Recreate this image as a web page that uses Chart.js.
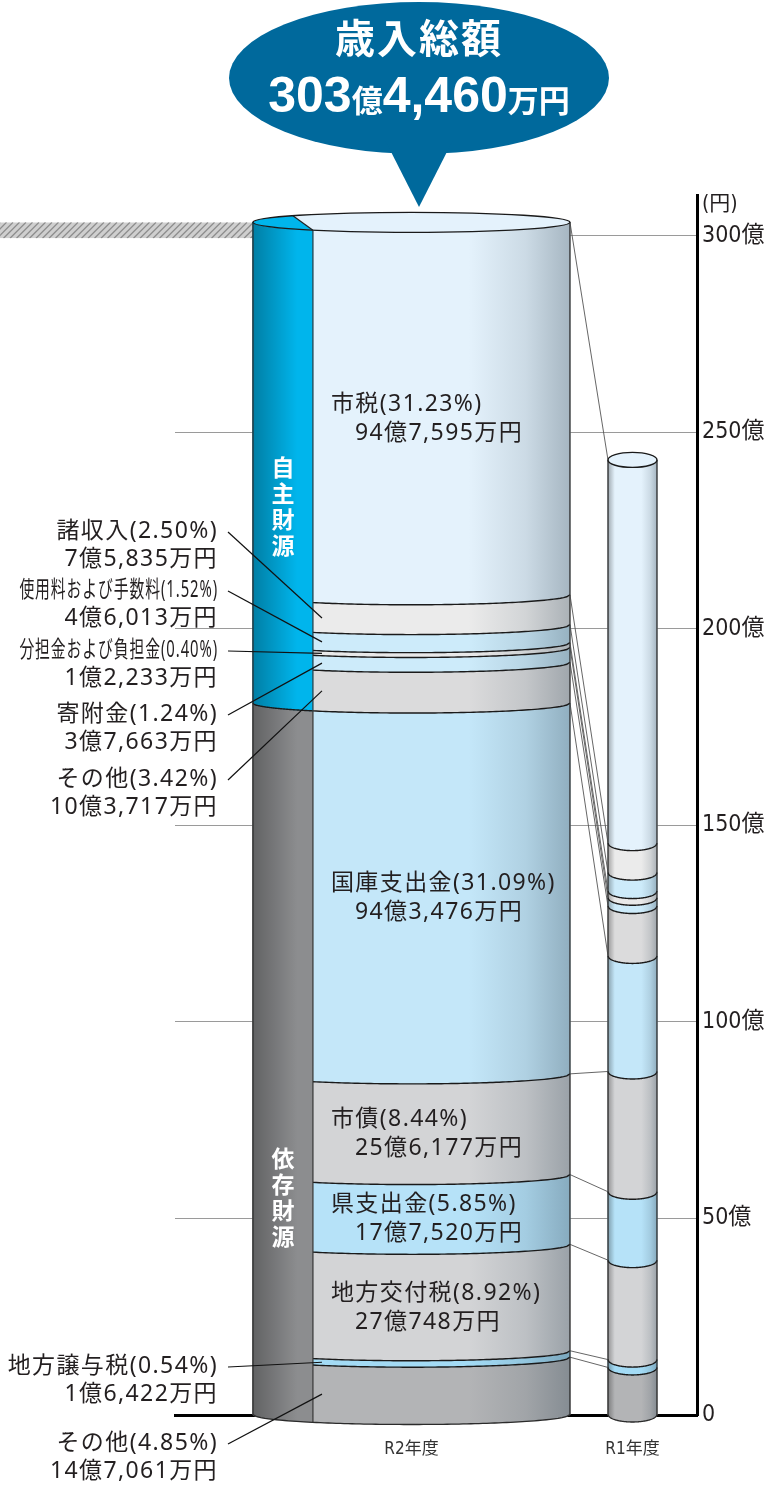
<!DOCTYPE html>
<html><head><meta charset="utf-8">
<style>html,body{margin:0;padding:0;background:#fff;}canvas{display:block;}</style>
<script src="https://cdn.jsdelivr.net/npm/chart.js@4.4.1/dist/chart.umd.min.js"></script>
</head><body>
<canvas id="c" width="769" height="1486"></canvas>
<script>
// ---------------- DATA ----------------
const years = ['R2年度', 'R1年度'];
// items bottom -> top
const items = ['その他', '地方譲与税', '地方交付税', '県支出金', '市債', '国庫支出金', 'その他', '寄附金', '分担金および負担金', '使用料および手数料', '諸収入', '市税'];
const itemSource = ['依存', '依存', '依存', '依存', '依存', '依存', '自主', '自主', '自主', '自主', '自主', '自主'];
const r2Values = [14.7061, 1.6422, 27.0748, 17.7520, 25.6177, 94.3476, 10.3717, 3.7663, 1.2233, 4.6013, 7.5835, 94.7595];
const r2Shares = ['4.85%', '0.54%', '8.92%', '5.85%', '8.44%', '31.09%', '3.42%', '1.24%', '0.40%', '1.52%', '2.50%', '31.23%'];
const r2Amounts = ['14億7,061万円', '1億6,422万円', '27億748万円', '17億7,520万円', '25億6,177万円', '94億3,476万円', '10億3,717万円', '3億7,663万円', '1億2,233万円', '4億6,013万円', '7億5,835万円', '94億7,595万円'];
const r1Values = [12.1, 2.0, 25.3, 17.4, 30.6, 29.4, 12.7, 2.1, 1.7, 4.7, 7.5, 97.5];
const sourceGroups = ['依存財源', '自主財源'];
const totalTitle = '歳入総額';
const totalParts = ['303', '億', '4,460', '万円'];
const yTickStep = 50;
const yUnit = '億';
const axisUnitLabel = '(円)';

// ---------------- STYLE / LAYOUT ----------------
const fills = ['#B3B4B6', '#A3DBF5', '#D3D4D6', '#B6E2F8', '#D3D4D6', '#C4E7F9', '#DBDBDC', '#CDEBFA', '#E9E9E9', '#CDEBFA', '#EBEBEB', '#E4F2FC'];
const srcFills = ['#8C8D8F', '#00B5EC'];
const X_POS = { src: -0.83, r2: 0, r1: 1 };
const X_MIN = -1.395, X_MAX = 1.3377;
const X_TICKS = [-0.157, 1];
const BAR_W = { src: 60, r2: 257, r1: 49 };
const CYL_STYLE = { R2: { ry: 10 }, R1: { ry: 7.5 } };
const WEDGE = 20;
const SHADE = [[0, 'rgba(0,0,0,0.30)'], [0.14, 'rgba(0,0,0,0)'], [0.68, 'rgba(40,60,75,0)'], [0.86, 'rgba(40,60,75,0.13)'], [1, 'rgba(40,60,75,0.33)']];
const TXT = '#231F20';
const LABEL_FONT = '"Noto Sans", "Noto Sans CJK JP", sans-serif';
const CJK = '"Noto Sans CJK JP", sans-serif';
const NARROW = '"Liberation Sans Narrow", "DejaVu Sans Condensed", "Noto Sans CJK JP", sans-serif';
const LBL = { font: '23px ' + LABEL_FONT, ls: '1.4px' };
const IN_BAR = [11, 5, 4, 3, 2];
const LEFT_LABEL_Y = { 10: 531, 9: 590, 8: 650, 7: 714, 6: 779, 1: 1366, 0: 1443 };
const CONDENSE = { 9: 0.645, 8: 0.645 };
const SRC_TEXT_POS = [0.695, 0.59];

// ---------------- DATASETS ----------------
const datasets = [];
items.forEach((name, i) => datasets.push({ label: name + ' ' + years[0], data: [{ x: X_POS.r2, y: r2Values[i] }], stack: 'r2', cyl: 'R2', item: i, backgroundColor: fills[i], barThickness: BAR_W.r2 }));
items.forEach((name, i) => datasets.push({ label: name + ' ' + years[1], data: [{ x: X_POS.r1, y: r1Values[i] }], stack: 'r1', cyl: 'R1', item: i, backgroundColor: fills[i], barThickness: BAR_W.r1 }));
sourceGroups.forEach((g, j) => {
  const sum = r2Values.filter((v, i) => g.startsWith(itemSource[i])).reduce((a, b) => a + b, 0);
  datasets.push({ label: g, data: [{ x: X_POS.src, y: sum }], stack: 'src', cyl: 'R2', src: j, backgroundColor: srcFills[j], barThickness: BAR_W.src });
});

// ---------------- HELPERS ----------------
function geom(chart) {
  const groups = {};
  chart.data.datasets.forEach((ds, di) => {
    const el = chart.getDatasetMeta(di).data[0];
    if (!el) return;
    const seg = { ds, di, x0: el.x - el.width / 2, x1: el.x + el.width / 2, top: Math.min(el.y, el.base), bot: Math.max(el.y, el.base) };
    (groups[ds.cyl] = groups[ds.cyl] || { segs: [] }).segs.push(seg);
  });
  Object.keys(groups).forEach(k => {
    const G = groups[k];
    G.left = Math.min(...G.segs.map(s => s.x0));
    G.right = Math.max(...G.segs.map(s => s.x1));
    G.top = Math.min(...G.segs.map(s => s.top));
    G.bot = Math.max(...G.segs.map(s => s.bot));
    G.cx = (G.left + G.right) / 2; G.rx = (G.right - G.left) / 2; G.ry = CYL_STYLE[k].ry;
    G.dip = x => { const t = (x - G.cx) / G.rx; return G.ry * Math.sqrt(Math.max(0, 1 - t * t)); };
  });
  return groups;
}
function arcPts(G, x0, x1, level, n = 80) {
  const pts = [];
  for (let i = 0; i <= n; i++) { const x = x0 + (x1 - x0) * i / n; pts.push([x, level + G.dip(x)]); }
  return pts;
}
function tracePts(ctx, pts, move = true) {
  pts.forEach(([x, y], i) => (i === 0 && move) ? ctx.moveTo(x, y) : ctx.lineTo(x, y));
}
function strokePts(ctx, pts) { ctx.beginPath(); tracePts(ctx, pts); ctx.stroke(); }
function text(ctx, str, x, y, o = {}) {
  ctx.save();
  ctx.font = o.font || LBL.font;
  if ('letterSpacing' in ctx) ctx.letterSpacing = o.ls !== undefined ? o.ls : (o.font ? '0px' : LBL.ls);
  ctx.fillStyle = o.color || TXT;
  ctx.textAlign = o.align || 'left';
  ctx.textBaseline = o.base || 'middle';
  ctx.translate(x, y); ctx.scale(o.sx || 1, 1);
  ctx.fillText(str, 0, 0);
  ctx.restore();
}
function line(ctx, x0, y0, x1, y1, color, w) {
  ctx.save(); ctx.strokeStyle = color; ctx.lineWidth = w;
  ctx.beginPath(); ctx.moveTo(x0, y0); ctx.lineTo(x1, y1); ctx.stroke(); ctx.restore();
}

function drawCylinder(ctx, G) {
  ctx.save();
  G.segs.forEach(s => {
    ctx.beginPath();
    tracePts(ctx, arcPts(G, s.x0, s.x1, s.top));
    tracePts(ctx, arcPts(G, s.x1, s.x0, s.bot), false);
    ctx.closePath();
    ctx.fillStyle = s.ds.backgroundColor;
    ctx.strokeStyle = s.ds.backgroundColor; ctx.lineWidth = 0.6;
    ctx.fill(); ctx.stroke();
  });
  // shading
  ctx.save();
  ctx.beginPath();
  ctx.moveTo(G.left, G.top - 1); ctx.lineTo(G.right, G.top - 1);
  tracePts(ctx, arcPts(G, G.right, G.left, G.bot), false);
  ctx.closePath(); ctx.clip();
  const gr = ctx.createLinearGradient(G.left, 0, G.right, 0);
  SHADE.forEach(([o, c]) => gr.addColorStop(o, c));
  ctx.fillStyle = gr;
  ctx.fillRect(G.left - 1, G.top - 3, G.right - G.left + 2, G.bot - G.top + G.ry + 6);
  ctx.restore();
  // boundaries
  ctx.strokeStyle = '#1a1a1a'; ctx.lineWidth = 1.4;
  G.segs.forEach(s => { if (s.top > G.top + 0.5) strokePts(ctx, arcPts(G, s.x0, s.x1, s.top)); });
  ctx.strokeStyle = '#333'; ctx.lineWidth = 1.1;
  G.segs.forEach(s => {
    if (s.x1 < G.right - 1) { ctx.beginPath(); ctx.moveTo(s.x1, s.top + G.dip(s.x1)); ctx.lineTo(s.x1, s.bot + G.dip(s.x1)); ctx.stroke(); }
  });
  // outline
  ctx.strokeStyle = '#2b2b2b'; ctx.lineWidth = 1.3;
  ctx.beginPath(); ctx.moveTo(G.left, G.top); ctx.lineTo(G.left, G.bot);
  tracePts(ctx, arcPts(G, G.left, G.right, G.bot), false);
  ctx.lineTo(G.right, G.top); ctx.stroke();
  // top face
  const mainTop = G.segs.filter(s => s.x0 <= G.cx && s.x1 >= G.cx).sort((a, b) => a.top - b.top)[0];
  const ell = () => { ctx.beginPath(); ctx.ellipse(G.cx, G.top, G.rx, G.ry, 0, 0, Math.PI * 2); };
  ell(); ctx.fillStyle = mainTop.ds.backgroundColor; ctx.fill();
  G.segs.filter(s => s !== mainTop && Math.abs(s.top - G.top) < 0.5).forEach(s => {
    const F = [s.x1, G.top + G.dip(s.x1)];
    const bx = s.x1 - WEDGE; const B = [bx, G.top - G.dip(bx)];
    ctx.save(); ell(); ctx.clip();
    ctx.beginPath(); ctx.moveTo(F[0], F[1]);
    ctx.lineTo(B[0] - (F[0] - B[0]), B[1] - (F[1] - B[1]));
    ctx.lineTo(G.left - 10, G.top - G.ry - 30); ctx.lineTo(G.left - 10, G.top + G.ry + 5);
    ctx.lineTo(F[0], G.top + G.ry + 5); ctx.closePath();
    ctx.fillStyle = s.ds.backgroundColor; ctx.fill();
    ctx.restore();
    line(ctx, F[0], F[1], B[0], B[1], '#222', 1.2);
  });
  ell(); ctx.strokeStyle = '#1a1a1a'; ctx.lineWidth = 1.4; ctx.stroke();
  ctx.restore();
}

const cylPlugin = {
  id: 'cyl',
  beforeDatasetsDraw(chart) {
    const G = geom(chart).R2;
    const ctx = chart.ctx;
    const y0 = G.top, h = 16, x1 = G.left + 2;
    ctx.save();
    ctx.beginPath(); ctx.rect(0, y0, x1, h); ctx.clip();
    ctx.fillStyle = '#CFCFCF'; ctx.fillRect(0, y0, x1, h);
    ctx.strokeStyle = '#8C8C8C'; ctx.lineWidth = 1.3;
    for (let x = -h; x < x1 + h; x += 6.5) { ctx.beginPath(); ctx.moveTo(x, y0 + h); ctx.lineTo(x + h, y0); ctx.stroke(); }
    ctx.restore();
  },
  afterDatasetsDraw(chart) {
    const ctx = chart.ctx;
    const groups = geom(chart);
    const R2 = groups.R2, R1 = groups.R1;
    // connectors
    items.forEach((n, i) => {
      const a = R2.segs.find(s => s.ds.stack === 'r2' && s.ds.item === i);
      const b = R1.segs.find(s => s.ds.item === i);
      line(ctx, a.x1, a.top, b.x0, b.top, '#555', 0.9);
    });
    drawCylinder(ctx, R2);
    drawCylinder(ctx, R1);
    // source column text
    R2.segs.filter(s => s.ds.stack === 'src').forEach(s => {
      const chars = [...s.ds.label];
      const cy = s.top + (s.bot - s.top) * SRC_TEXT_POS[s.ds.src];
      const cx = (s.x0 + s.x1) / 2;
      chars.forEach((c, k) => text(ctx, c, cx, cy + (k - (chars.length - 1) / 2) * 26, { font: 'bold 23px ' + CJK, color: '#fff', align: 'center' }));
    });
    // in-bar labels
    IN_BAR.forEach(i => {
      const s = R2.segs.find(t => t.ds.stack === 'r2' && t.ds.item === i);
      const cy = (s.top + s.bot) / 2 + R2.dip(s.x0 + 90);
      text(ctx, items[i] + '(' + r2Shares[i] + ')', s.x0 + 18, cy - 14.5);
      text(ctx, r2Amounts[i], s.x0 + 42, cy + 14.5);
    });
    // left labels + leaders
    Object.keys(LEFT_LABEL_Y).forEach(k => {
      const i = +k; const y = LEFT_LABEL_Y[k];
      const s = R2.segs.find(t => t.ds.stack === 'r2' && t.ds.item === i);
      text(ctx, items[i] + '(' + r2Shares[i] + ')', 218, y, { align: 'right', sx: CONDENSE[i] || 1 });
      text(ctx, r2Amounts[i], 218, y + 28, { align: 'right' });
      const ex = s.x0 + 9;
      const ey = (s.top + s.bot) / 2 + R2.dip(ex);
      line(ctx, 228, y + 1, ex, ey, '#111', 1.2);
    });
  },
  afterDraw(chart) {
    const ctx = chart.ctx;
    text(ctx, axisUnitLabel, chart.chartArea.right + 5, chart.chartArea.top + 10, { font: '21px ' + NARROW });
    // callout
    const cx = 419, cy = 78;
    ctx.save();
    ctx.fillStyle = '#00699C';
    ctx.beginPath(); ctx.ellipse(cx, cy, 190, 76, 0, 0, Math.PI * 2); ctx.fill();
    ctx.beginPath(); ctx.moveTo(cx - 34, cy + 62); ctx.lineTo(cx + 34, cy + 62); ctx.lineTo(cx, 207); ctx.closePath(); ctx.fill();
    ctx.restore();
    text(ctx, totalTitle, cx, 38, { font: 'bold 40px ' + CJK, color: '#fff', align: 'center', ls: '2px' });
    const fonts = ['bold 50px "Liberation Sans", sans-serif', 'bold 31px ' + CJK, 'bold 50px "Liberation Sans", sans-serif', 'bold 31px ' + CJK];
    ctx.save();
    if ('letterSpacing' in ctx) ctx.letterSpacing = '0px';
    let total = 0; const ws = totalParts.map((t, k) => { ctx.font = fonts[k]; const w = ctx.measureText(t).width; total += w; return w; });
    ctx.restore();
    let x = cx - total / 2;
    totalParts.forEach((t, k) => { text(ctx, t, x, 112, { font: fonts[k], color: '#fff', base: 'alphabetic' }); x += ws[k]; });
  }
};

new Chart(document.getElementById('c').getContext('2d'), {
  type: 'bar',
  data: { datasets },
  options: {
    responsive: false, animation: false,
    layout: { padding: { left: 175, top: 195, right: 0, bottom: 0 } },
    plugins: { legend: { display: false }, tooltip: { enabled: false } },
    datasets: { bar: { grouped: false, borderWidth: 0 } },
    scales: {
      x: {
        type: 'linear', min: X_MIN, max: X_MAX, offset: false,
        grid: { display: false },
        border: { display: true, color: '#000', width: 3 },
        afterBuildTicks: s => { s.ticks = X_TICKS.map(v => ({ value: v })); },
        afterFit: s => { s.height = 71; },
        ticks: { autoSkip: false, maxRotation: 0, padding: 16, color: '#333', font: { family: NARROW, size: 17 }, callback: (v, i) => years[i] }
      },
      y: {
        position: 'right', stacked: true, min: 0, max: 310.4,
        grid: { color: '#9a9a9a', lineWidth: 1, drawTicks: false },
        border: { color: '#000', width: 3 },
        afterFit: s => { s.width = 72; },
        ticks: { stepSize: yTickStep, includeBounds: false, padding: 5, color: TXT, font: { family: NARROW, size: 23 }, callback: v => v === 0 ? '0' : v + yUnit }
      }
    }
  },
  plugins: [cylPlugin]
});
</script>
</body></html>
